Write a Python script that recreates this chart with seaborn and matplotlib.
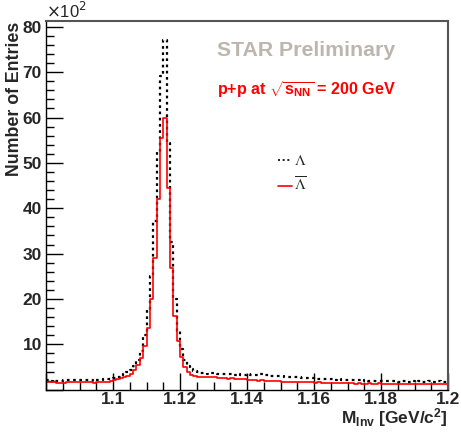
import numpy as np
import pandas as pd
import matplotlib
matplotlib.use("Agg")
import matplotlib.pyplot as plt
from matplotlib.lines import Line2D
from matplotlib.ticker import FixedLocator, MultipleLocator
import seaborn as sns

# ---- data (entries in units of 10^2), 0.001 GeV bins from 1.080 to 1.200 ----
bin_low = 1.080
bin_high = 1.200
n_bins = 120

lambda_counts = [
    2.1, 2.0, 2.1, 2.0, 2.0, 2.1, 2.2, 2.1, 2.1, 2.2,
    2.2, 2.1, 2.2, 2.1, 2.0, 2.2, 2.2, 2.3, 2.3, 2.4,
    2.6, 2.8, 3.0, 3.4, 3.8, 4.4, 5.2, 6.6, 8.6, 12.0,
    17.5, 25.0, 37.3, 52.4, 69.2, 77.0, 54.3, 32.5, 20.0, 13.0,
    9.0, 6.5, 5.2, 4.5, 4.1, 3.8, 3.6, 3.6, 3.5, 3.6,
    3.6, 3.5, 3.4, 3.5, 3.4, 3.4, 3.3, 3.4, 3.3, 3.3,
    3.4, 3.3, 3.2, 3.3, 3.4, 3.3, 3.2, 3.1, 3.1, 3.0,
    3.0, 2.9, 2.9, 2.8, 2.8, 2.7, 2.6, 2.6, 2.5, 2.5,
    2.4, 2.4, 2.3, 2.3, 2.4, 2.3, 2.2, 2.3, 2.2, 2.2,
    2.1, 2.2, 2.1, 2.1, 2.0, 2.1, 2.0, 2.0, 1.9, 2.0,
    2.0, 1.9, 1.9, 2.0, 1.9, 1.8, 1.9, 1.9, 1.8, 1.9,
    1.8, 1.9, 1.8, 1.8, 1.9, 1.8, 1.8, 1.9, 1.8, 1.8,
]

antilambda_counts = [
    1.7, 1.7, 1.6, 1.5, 1.5, 1.5, 1.6, 1.7, 1.7, 1.8,
    1.8, 1.7, 1.7, 1.6, 1.5, 1.7, 1.8, 1.8, 1.8, 1.9,
    2.1, 2.3, 2.5, 2.8, 3.0, 3.5, 4.4, 5.5, 7.0, 9.7,
    13.7, 20.0, 29.0, 42.0, 55.4, 60.0, 44.4, 26.8, 16.3, 10.8,
    7.1, 4.9, 3.8, 3.2, 3.0, 2.9, 2.9, 2.8, 2.9, 2.8,
    2.8, 2.6, 2.5, 2.6, 2.4, 2.5, 2.4, 2.3, 2.4, 2.3,
    2.1, 2.2, 2.1, 2.0, 2.1, 2.0, 1.9, 2.0, 1.9, 1.9,
    1.8, 1.8, 1.7, 1.8, 1.7, 1.7, 1.6, 1.7, 1.6, 1.6,
    1.5, 1.6, 1.5, 1.5, 1.4, 1.5, 1.5, 1.4, 1.4, 1.5,
    1.4, 1.4, 1.3, 1.4, 1.3, 1.3, 1.4, 1.3, 1.3, 1.4,
    1.3, 1.3, 1.2, 1.3, 1.3, 1.2, 1.3, 1.3, 1.2, 1.3,
    1.2, 1.3, 1.3, 1.2, 1.3, 1.2, 1.2, 1.3, 1.2, 1.3,
]

x_tick_values = [1.08, 1.10, 1.12, 1.14, 1.16, 1.18, 1.20]
x_tick_labels = ["", "1.1", "1.12", "1.14", "1.16", "1.18", "1.2"]
y_tick_values = [0, 10, 20, 30, 40, 50, 60, 70, 80]
y_tick_labels = ["", "10", "20", "30", "40", "50", "60", "70", "80"]

edges = np.linspace(bin_low, bin_high, n_bins + 1)
centers = (edges[:-1] + edges[1:]) / 2
df_lam = pd.DataFrame({"m": centers, "w": lambda_counts})
df_alam = pd.DataFrame({"m": centers, "w": antilambda_counts})

# ---- style ----
sns.set_style("ticks")
plt.rcParams["font.family"] = ["Liberation Sans", "DejaVu Sans"]
plt.rcParams["mathtext.fontset"] = "custom"
plt.rcParams["mathtext.rm"] = "Liberation Sans:bold"
plt.rcParams["mathtext.bf"] = "Liberation Sans:bold"
plt.rcParams["mathtext.it"] = "Liberation Sans:bold"
plt.rcParams["mathtext.default"] = "rm"

fig = plt.figure(figsize=(4.61, 4.41), dpi=100)
W, H = 461, 441
ax_left, ax_right, ax_top, ax_bottom = 46, 448, 20.5, 389.7
ax_w, ax_h = ax_right - ax_left, ax_bottom - ax_top
ax = fig.add_axes([ax_left / W, 1 - ax_bottom / H, ax_w / W, ax_h / H])

sns.histplot(data=df_lam, x="m", weights="w", bins=n_bins, binrange=(bin_low, bin_high),
             element="step", fill=False, color="black", linestyle=(0, (1.2, 1.6)),
             linewidth=1.6, ax=ax)
sns.histplot(data=df_alam, x="m", weights="w", bins=n_bins, binrange=(bin_low, bin_high),
             element="step", fill=False, color="#ff0000", linewidth=1.2, ax=ax)

ax.set_xlim(1.08, 1.20)
ax.set_ylim(0, 81.4)

ax.xaxis.set_major_locator(FixedLocator(x_tick_values))
ax.set_xticklabels(x_tick_labels)
ax.xaxis.set_minor_locator(MultipleLocator(0.005))
ax.yaxis.set_major_locator(FixedLocator(y_tick_values))
ax.set_yticklabels(y_tick_labels)
ax.yaxis.set_minor_locator(MultipleLocator(2))

ax.tick_params(which="major", direction="in", length=12, width=1, top=False, right=False,
               labelsize=12.5, color="black")
ax.tick_params(axis="x", which="major", pad=2)
ax.tick_params(axis="y", which="major", pad=3)
ax.tick_params(which="minor", direction="in", length=6, width=1, top=False, right=False,
               color="black")
for lab in ax.get_xticklabels() + ax.get_yticklabels():
    lab.set_fontweight("bold")

for s in ["left", "bottom"]:
    ax.spines[s].set_color("black")
    ax.spines[s].set_linewidth(1.0)
for s in ["top", "right"]:
    ax.spines[s].set_color("#555555")
    ax.spines[s].set_linewidth(1.5)

ax.set_ylabel("Number of Entries", loc="top", fontsize=12.8, fontweight="bold")
ax.yaxis.set_label_coords(-(46 - 23) / ax_w, 1.0 - 1.5 / ax_h)
ax.set_xlabel(r"M$_{\mathrm{Inv}}$ [GeV/c$^{\mathrm{2}}$]", loc="right", fontsize=12.5,
              fontweight="bold")
ax.xaxis.set_label_coords(1.0, -(406 - ax_bottom) / ax_h)

fig.text(ax_left / W, 1 - 21 / H, r"$\times$10$^{2}$", fontsize=12, ha="left", va="bottom",
         math_fontfamily="dejavusans", fontweight="normal")

ax.text(217 / W, 1 - 50 / H, "STAR Preliminary", transform=fig.transFigure, fontsize=15.3,
        fontweight="bold", color="#bdb6ae", ha="left", va="center")
ax.text(217 / W, 1 - 90 / H, r"p+p at $\sqrt{s_{NN}}$ = 200 GeV", transform=fig.transFigure,
        fontsize=11.6, fontweight="bold", color="#ff0000", ha="left", va="center")

handles = [Line2D([], [], color="black", linestyle=(0, (1.2, 1.6)), linewidth=1.2),
           Line2D([], [], color="#ff0000", linewidth=1.2)]
leg = ax.legend(handles, [r"$\Lambda$", r"$\overline{\Lambda}$"], loc="upper left",
                bbox_to_anchor=(272 / W, 1 - 148 / H), bbox_transform=fig.transFigure,
                frameon=False, handlelength=0.9, handletextpad=0.15, fontsize=11,
                labelspacing=0.5, borderaxespad=0)
for t in leg.get_texts():
    t.set_math_fontfamily("stix")

fig.savefig("out.png", dpi=100)
